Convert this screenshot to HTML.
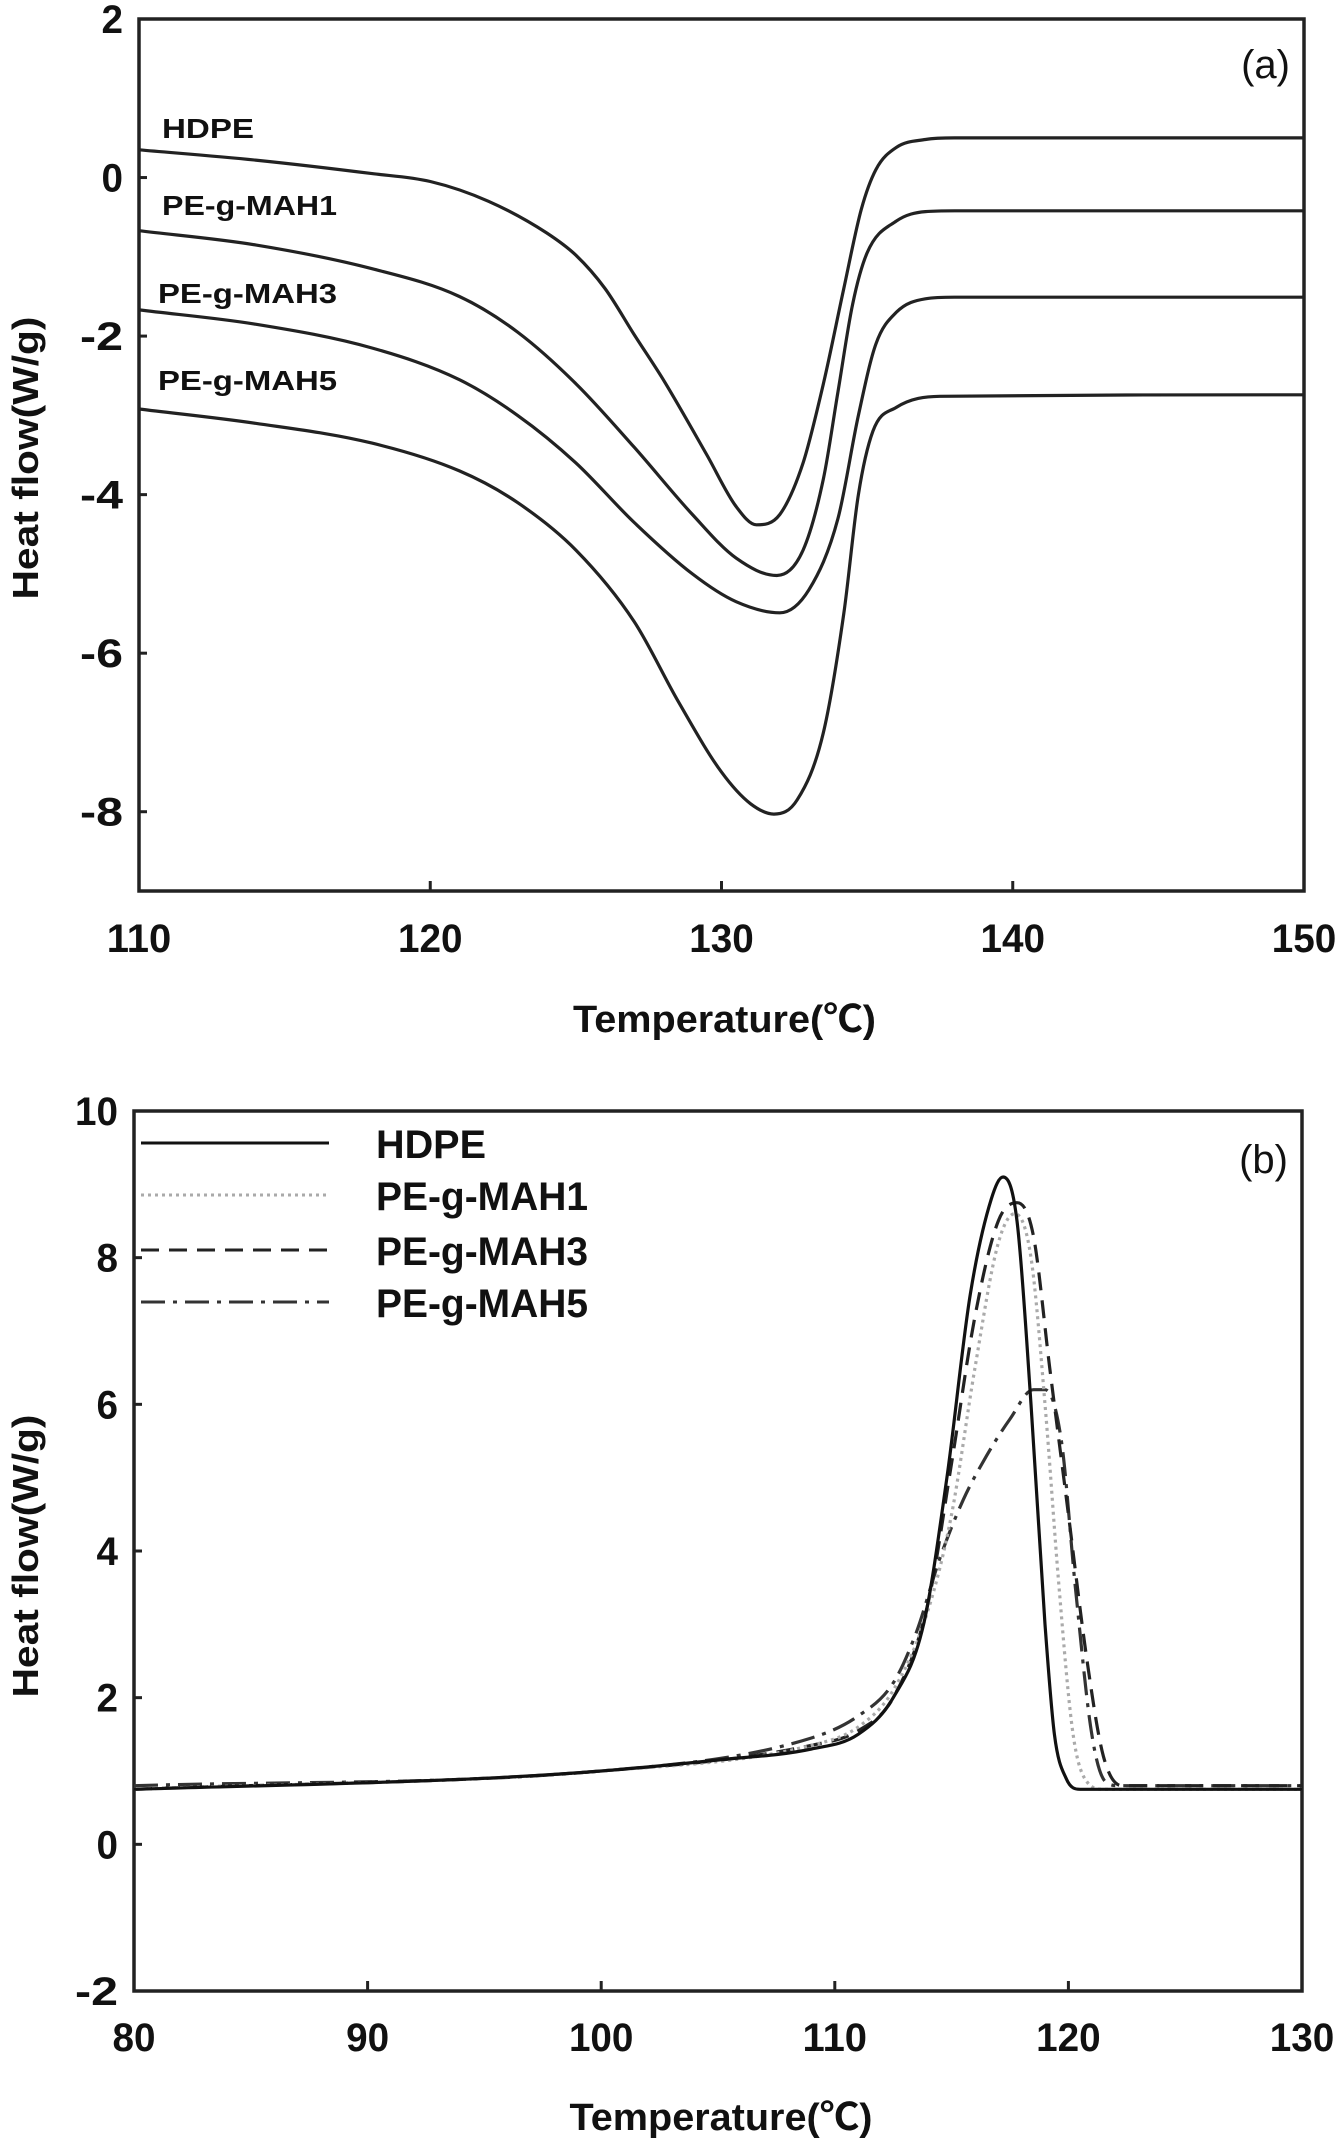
<!DOCTYPE html>
<html><head><meta charset="utf-8"><style>
html,body{margin:0;padding:0;background:#fff}
svg{display:block}
text{font-family:"Liberation Sans","Noto Sans CJK SC",sans-serif;font-weight:bold;fill:#111}
</style></head><body>
<svg id="chart" width="1339" height="2142" viewBox="0 0 1339 2142" xmlns="http://www.w3.org/2000/svg"></svg>
<script>
// ---- Panel (a) data ----
const aXTicks=[110,120,130,140,150];
const aYTicks=[2,0,-2,-4,-6,-8];
const aHDPE_T=[110,114,118,120,122,124,125,126,127,128,129.5,130.5,131.2,132,132.8,133.5,134.2,134.8,135.3,136,137,138,150];
const aHDPE_Y=[0.35,0.22,0.05,-0.05,-0.3,-0.7,-0.98,-1.4,-1.98,-2.55,-3.5,-4.15,-4.38,-4.25,-3.6,-2.6,-1.4,-0.4,0.1,0.38,0.48,0.5,0.5];
const aMAH1_T=[110,114,118,121,123,125,127,129,130.5,131.9,132.8,133.5,134,134.5,135,136,137,138,150];
const aMAH1_Y=[-0.67,-0.85,-1.15,-1.5,-1.95,-2.6,-3.4,-4.25,-4.8,-5.02,-4.7,-3.8,-2.7,-1.6,-0.95,-0.55,-0.43,-0.42,-0.42];
const aMAH3_T=[110,114,118,121,123,125,127,129,130.5,132,133,134,134.7,135.3,136,137,138,150];
const aMAH3_Y=[-1.67,-1.85,-2.15,-2.55,-3.0,-3.6,-4.35,-5.0,-5.35,-5.49,-5.2,-4.3,-3.0,-2.1,-1.7,-1.53,-1.51,-1.51];
const aMAH5_T=[110,114,118,121,123,125,127,128.5,130,131,131.8,132.6,133.5,134.2,134.7,135.2,136,137.5,150];
const aMAH5_Y=[-2.92,-3.1,-3.35,-3.7,-4.1,-4.7,-5.6,-6.6,-7.5,-7.9,-8.03,-7.85,-7.0,-5.5,-4.0,-3.2,-2.9,-2.76,-2.74];
// ---- Panel (b) data ----
const bXTicks=[80,90,100,110,120,130];
const bYTicks=[10,8,6,4,2,0,-2];
const bHDPE_T=[80,95,100,105,109,111,112.5,113.8,114.8,115.8,116.7,117.2,117.8,118.4,119,119.4,119.9,120.5,130];
const bHDPE_Y=[0.75,0.9,1.0,1.15,1.3,1.5,2.0,3.0,5.0,7.5,8.8,9.1,8.5,6,3,1.5,0.9,0.75,0.75];
const bMAH1_T=[80,100,109,111,112.5,114,115,116,117,117.7,118.4,119,119.6,120.2,120.8,121.5,130];
const bMAH1_Y=[0.75,1.0,1.35,1.6,2.1,3.2,4.5,6.5,8.2,8.6,8.0,6,3.5,1.5,0.85,0.75,0.75];
const bMAH3_T=[80,100,109,111,112.5,114,115,116,117,117.8,118.5,119.2,120,120.8,121.5,122.3,130];
const bMAH3_Y=[0.75,1.0,1.35,1.55,2.0,3.3,5.2,7.2,8.5,8.75,8.3,6.5,4.5,2.5,1.2,0.8,0.8];
const bMAH5_T=[80,100,109,111,112.5,113.5,114.5,115.5,116.5,117.5,118.5,119,119.7,120.3,121,121.6,122.2,130];
const bMAH5_Y=[0.8,1.0,1.45,1.75,2.2,2.9,3.9,4.7,5.3,5.8,6.2,6.2,5.5,3.5,1.5,0.85,0.8,0.8];

const NS='http://www.w3.org/2000/svg';
const svg=document.getElementById('chart');
function mk(tag,attrs,parent,txt){const e=document.createElementNS(NS,tag);for(const k in attrs)e.setAttribute(k,attrs[k]);if(txt!==undefined)e.textContent=txt;(parent||svg).appendChild(e);return e;}
function smooth(p){
  const n=p.length,d=[],m=[];
  for(let i=0;i<n-1;i++)d.push((p[i+1][1]-p[i][1])/(p[i+1][0]-p[i][0]));
  m[0]=d[0];m[n-1]=d[n-2];
  for(let i=1;i<n-1;i++){m[i]=(d[i-1]*d[i]<=0)?0:(d[i-1]+d[i])/2;}
  for(let i=0;i<n-1;i++){if(d[i]===0){m[i]=0;m[i+1]=0;continue;}const a=m[i]/d[i],b=m[i+1]/d[i],s=a*a+b*b;if(s>9){const t=3/Math.sqrt(s);m[i]=t*a*d[i];m[i+1]=t*b*d[i];}}
  let s='M'+p[0][0].toFixed(1)+','+p[0][1].toFixed(1);
  for(let i=0;i<n-1;i++){const h=(p[i+1][0]-p[i][0])/3;
    s+=' C'+(p[i][0]+h).toFixed(1)+','+(p[i][1]+m[i]*h).toFixed(1)+' '+(p[i+1][0]-h).toFixed(1)+','+(p[i+1][1]-m[i+1]*h).toFixed(1)+' '+p[i+1][0].toFixed(1)+','+p[i+1][1].toFixed(1);}
  return s;
}

function panel(cfg){
  const g=mk('g',{});
  
  
  const sx=v=>cfg.L+(v-cfg.x0)/(cfg.x1-cfg.x0)*(cfg.R-cfg.L);
  const sy=v=>cfg.T+(cfg.y1-v)/(cfg.y1-cfg.y0)*(cfg.B-cfg.T);
  const frame=mk('rect',{x:cfg.L,y:cfg.T,width:cfg.R-cfg.L,height:cfg.B-cfg.T,fill:'none',stroke:'#222','stroke-width':3.5},g);
  
  
  cfg.xt.forEach(v=>{
    const tk=mk('line',{x1:sx(v),x2:sx(v),y1:cfg.B,y2:cfg.B-10,stroke:'#222','stroke-width':3},g);
    
    
    const t=mk('text',{x:sx(v),y:cfg.xly,'text-anchor':'middle','font-size':40,textLength:String(v).length*21.5,lengthAdjust:'spacingAndGlyphs'},g,String(v));
    
    
  });
  cfg.yt.forEach(v=>{
    const tk=mk('line',{x1:cfg.L,x2:cfg.L+8,y1:sy(v),y2:sy(v),stroke:'#222','stroke-width':3},g);
    
    
    const t=mk('text',{x:cfg.L-16,y:sy(v)+14,'text-anchor':'end','font-size':40,textLength:String(v).length*21.5,lengthAdjust:'spacingAndGlyphs'},g,String(v));
    
    
  });
  const xt=mk('text',{x:(cfg.L+cfg.R)/2+3,y:cfg.xty,'text-anchor':'middle','font-size':38,textLength:303,lengthAdjust:'spacingAndGlyphs'},g,'Temperature(℃)');
  
  
  const yt=mk('text',{x:0,y:0,'text-anchor':'middle','font-size':36,textLength:283,lengthAdjust:'spacingAndGlyphs',transform:'translate(38,'+cfg.ytc+') rotate(-90)'},g,'Heat flow(W/g)');
  
  
  const pl=mk('text',{x:cfg.R-14,y:cfg.ply,'text-anchor':'end','font-size':40},g,cfg.plabel);
  pl.style.fontWeight='normal';
  
  
  cfg.series.forEach(s=>{
    const pts=s.t.map((t,i)=>[sx(t),sy(s.y[i])]);
    const p=mk('path',{d:smooth(pts),fill:'none',stroke:s.color,'stroke-width':s.w||3.2,'stroke-dasharray':s.dash||'none','stroke-linejoin':'round'},g);
    
    
  });
  return {g,sx,sy};
}

const A=panel({name:'panel-a',L:139,R:1304,T:19,B:891,x0:110,x1:150,y0:-9,y1:2,xt:aXTicks,yt:aYTicks,xly:952,xty:1032,ytc:458,plabel:'(a)',ply:78,
  series:[
    {name:'line-hdpe',t:aHDPE_T,y:aHDPE_Y,color:'#222'},
    {name:'line-pe-g-mah1',t:aMAH1_T,y:aMAH1_Y,color:'#222'},
    {name:'line-pe-g-mah3',t:aMAH3_T,y:aMAH3_Y,color:'#222'},
    {name:'line-pe-g-mah5',t:aMAH5_T,y:aMAH5_Y,color:'#222'}]});
[['HDPE',162,138,92],['PE-g-MAH1',162,215,175],['PE-g-MAH3',158,303,179],['PE-g-MAH5',158,390,179]].forEach(l=>{
  const t=mk('text',{x:l[1],y:l[2],'font-size':28,textLength:l[3],lengthAdjust:'spacingAndGlyphs'},A.g,l[0]);
  
  
});

const B=panel({name:'panel-b',L:134,R:1302,T:1111,B:1991,x0:80,x1:130,y0:-2,y1:10,xt:bXTicks,yt:bYTicks,xly:2051,xty:2130,ytc:1556,plabel:'(b)',ply:1173,
  series:[
    {name:'line-pe-g-mah5',t:bMAH5_T,y:bMAH5_Y,color:'#333',dash:'24,8,4,8'},
    {name:'line-pe-g-mah3',t:bMAH3_T,y:bMAH3_Y,color:'#222',dash:'18,10'},
    {name:'line-pe-g-mah1',t:bMAH1_T,y:bMAH1_Y,color:'#aaa',dash:'3,4'},
    {name:'line-hdpe',t:bHDPE_T,y:bHDPE_Y,color:'#111'}]});
const leg=mk('g',{},B.g);


[['HDPE',1143,'#111','none'],['PE-g-MAH1',1195,'#aaa','3,4'],['PE-g-MAH3',1250,'#222','18,10'],['PE-g-MAH5',1302,'#333','24,8,4,8']].forEach((l,i)=>{
  const ln=mk('line',{x1:141,x2:329,y1:l[1],y2:l[1],stroke:l[2],'stroke-width':3,'stroke-dasharray':l[3]},leg);
  
  
  const t=mk('text',{x:376,y:l[1]+15,'font-size':40,textLength:i===0?110:212,lengthAdjust:'spacingAndGlyphs'},leg,l[0]);
  
  
});
</script>
</body></html>
